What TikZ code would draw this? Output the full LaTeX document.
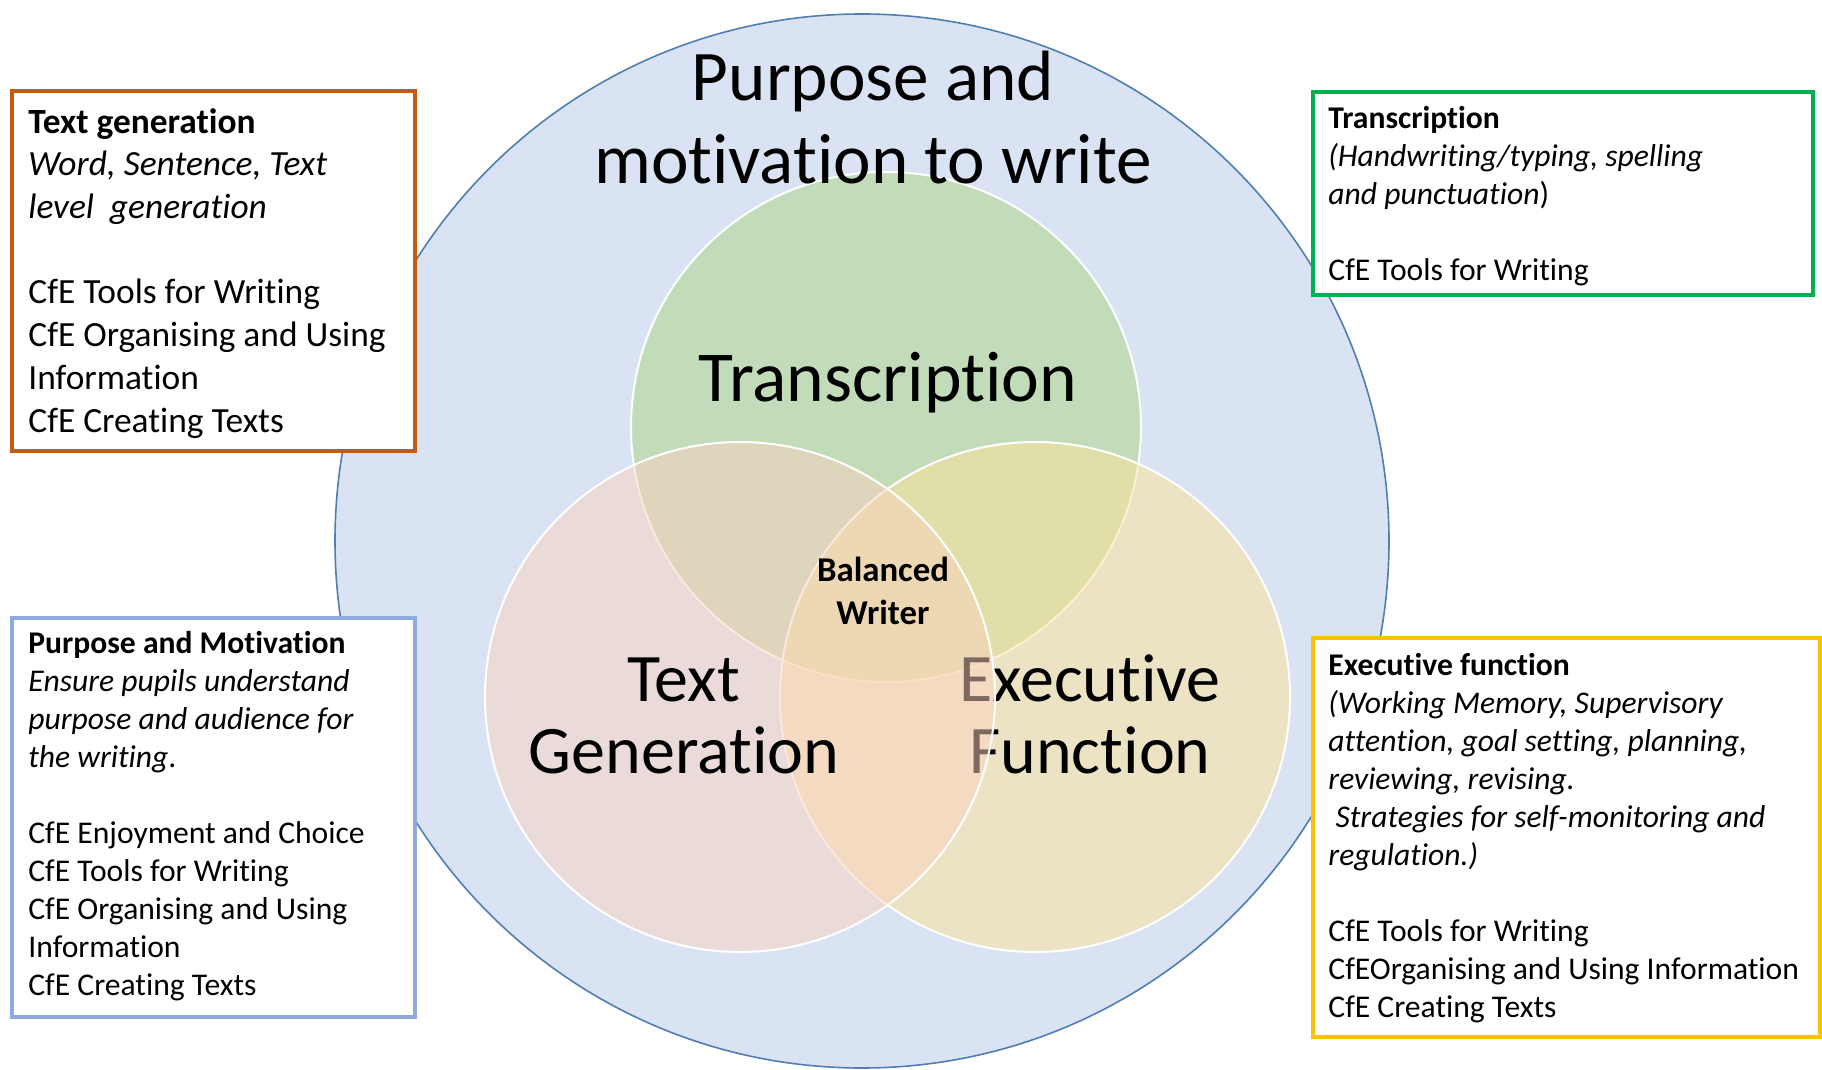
\documentclass[tikz,border=0pt]{standalone}
\usepackage{fontspec}
\setmainfont{Carlito}[Ligatures=NoCommon]
\definecolor{bgblue}{RGB}{218,227,243}
\definecolor{ringblue}{RGB}{80,126,178}
\definecolor{transgreen}{RGB}{172,214,130}
\definecolor{execgold}{RGB}{254,227,151}
\definecolor{gencoral}{RGB}{250,210,190}
\definecolor{boxorange}{RGB}{197,90,17}
\definecolor{boxgreen}{RGB}{0,176,80}
\definecolor{boxblue}{RGB}{143,170,220}
\definecolor{boxgold}{RGB}{255,192,0}
\begin{document}
% multi-line nodes are placed by the baseline of their last line
\begin{tikzpicture}[x=0.5pt,y=-0.5pt,
  venn/.style={draw=white, line width=1pt, fill opacity=0.5},
  infobox/.style={fill=white, line width=2pt},
  boxtext/.style={anchor=base west, inner sep=0pt, align=left,
    font=\fontsize{15.8pt}{19pt}\selectfont},
  bigtext/.style={anchor=base, inner sep=0pt, align=center,
    font=\fontsize{34pt}{36pt}\selectfont},
]
\useasboundingbox (0,0) rectangle (1822,1070);
\fill[white] (0,0) rectangle (1822,1070);

% outer circle: purpose and motivation
\coordinate (outerc) at (862,541);
\draw[fill=bgblue, draw=ringblue, line width=0.8pt] (outerc) circle [radius=263.5pt];

% the three overlapping circles
\coordinate (tc) at (886,427);
\coordinate (ec) at (1035,697);
\coordinate (gc) at (740,697);
\filldraw[venn, fill=transgreen] (tc) circle [radius=127.5pt];
\node[bigtext, font=\fontsize{35.8pt}{36pt}\selectfont] (transcription) at (888,401) {Transcription};
\filldraw[venn, fill=execgold] (ec) circle [radius=127.5pt];
\node[bigtext] (executive) at (1090,773) {Executive\\Function};
\filldraw[venn, fill=gencoral] (gc) circle [radius=127.5pt];
\node[bigtext] (textgen) at (684,773) {Text\\Generation};

\node[anchor=base, align=center, inner sep=0pt,
  font=\fontsize{35.6pt}{41.5pt}\selectfont] (title) at (873,184)
  {Purpose and\\motivation to write};

\node[anchor=base, align=center, inner sep=0pt,
  font=\bfseries\fontsize{17.4pt}{21.5pt}\selectfont] (balanced) at (883,624)
  {Balanced\\Writer};

% information boxes
\draw[infobox, draw=boxorange] (12,91) rectangle (415,451);
\node[boxtext, font=\fontsize{17.7pt}{21.35pt}\selectfont] (gentext) at (28,432)
  {\textbf{Text generation}\\
   \textit{Word, Sentence, Text}\\
   \textit{level\ \ generation}\\[21.35pt]
   CfE Tools for Writing\\
   CfE Organising and Using\\
   Information\\
   CfE Creating Texts};

\draw[infobox, draw=boxgreen] (1313,92) rectangle (1813,295);
\node[boxtext] (transtext) at (1328,280)
  {\textbf{Transcription}\\
   \textit{(Handwriting/typing, spelling}\\
   \textit{and punctuation})\\[19pt]
   CfE Tools for Writing};

\draw[infobox, draw=boxblue] (12,618) rectangle (415,1017);
\node[boxtext] (purposetext) at (28,995)
  {\textbf{Purpose and Motivation}\\
   \textit{Ensure pupils understand}\\
   \textit{purpose and audience for}\\
   \textit{the writing}.\\[19pt]
   CfE Enjoyment and Choice\\
   CfE Tools for Writing\\
   CfE Organising and Using\\
   Information\\
   CfE Creating Texts};

\draw[infobox, draw=boxgold] (1313,638) rectangle (1820,1037);
\node[boxtext] (exectext) at (1328,1017)
  {\textbf{Executive function}\\
   \textit{(Working Memory, Supervisory}\\
   \textit{attention, goal setting, planning,}\\
   \textit{reviewing, revising.}\\
   \textit{\ Strategies for self-monitoring and}\\
   \textit{regulation.)}\\[19pt]
   CfE Tools for Writing\\
   CfEOrganising and Using Information\\
   CfE Creating Texts};
\end{tikzpicture}
\end{document}
